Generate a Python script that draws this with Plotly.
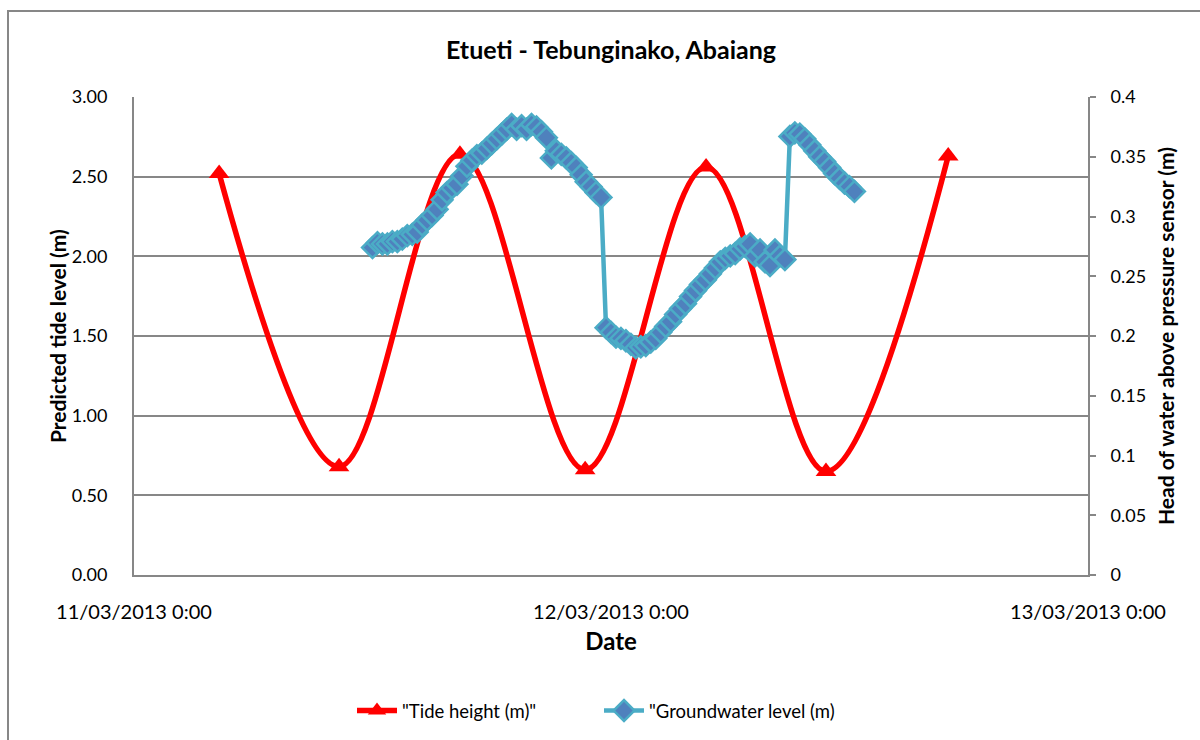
import pandas as pd
import plotly.graph_objects as go

# Predicted tide extremes (high/low water)
tide_times = [
    "2013-03-11 04:17", "2013-03-11 10:19", "2013-03-11 16:24",
    "2013-03-11 22:42", "2013-03-12 04:47", "2013-03-12 10:49",
    "2013-03-12 16:58",
]
tide_height = [2.52, 0.68, 2.64, 0.66, 2.56, 0.65, 2.63]

# Groundwater logger, 15-minute readings starting 11/03/2013 12:00
gw_start = "2013-03-11 12:00"
gw_interval = "15min"
gw_level = [
    0.274, 0.278, 0.277, 0.277, 0.279, 0.279, 0.281, 0.284, 0.285, 0.287,
    0.293, 0.297, 0.301, 0.306, 0.314, 0.320, 0.324, 0.327, 0.334, 0.342,
    0.347, 0.351, 0.353, 0.357, 0.361, 0.365, 0.369, 0.373, 0.377, 0.373,
    0.376, 0.373, 0.377, 0.375, 0.371, 0.366, 0.349, 0.355, 0.352, 0.349,
    0.345, 0.341, 0.335, 0.329, 0.325, 0.320, 0.316, 0.207, 0.203, 0.199,
    0.198, 0.196, 0.193, 0.190, 0.191, 0.192, 0.195, 0.198, 0.203, 0.208,
    0.212, 0.218, 0.223, 0.227, 0.233, 0.238, 0.243, 0.247, 0.252, 0.257,
    0.262, 0.265, 0.267, 0.269, 0.273, 0.275, 0.277, 0.267, 0.272, 0.262,
    0.259, 0.272, 0.267, 0.264, 0.367, 0.370, 0.369, 0.365, 0.360, 0.355,
    0.350, 0.346, 0.341, 0.336, 0.332, 0.328, 0.325, 0.321,
]
gw_times = pd.date_range(gw_start, periods=len(gw_level), freq=gw_interval)

x_ticks = ["2013-03-11 00:00", "2013-03-12 00:00", "2013-03-13 00:00"]
x_tick_labels = ["11/03/2013 0:00", "12/03/2013 0:00", "13/03/2013 0:00"]
left_ticks = [0, 0.5, 1.0, 1.5, 2.0, 2.5, 3.0]
right_ticks = [0, 0.05, 0.1, 0.15, 0.2, 0.25, 0.3, 0.35, 0.4]
right_tick_labels = ["0", "0.05", "0.1", "0.15", "0.2", "0.25", "0.3", "0.35", "0.4"]

FONT = "Lato"
GRID = "#878787"

# plot area in pixels
L, R, T, B = 134, 1088, 97, 575
PW, PH = R - L, B - T

fig = go.Figure()

fig.add_trace(go.Scatter(
    x=tide_times, y=tide_height, name='"Tide height (m)"',
    mode="lines+markers",
    line=dict(color="#FF0000", width=5.5, shape="spline", smoothing=1.0),
    marker=dict(symbol="triangle-up", size=18, color="#FF0000"),
    yaxis="y",
))

fig.add_trace(go.Scatter(
    x=gw_times, y=gw_level, name='"Groundwater level (m)',
    mode="lines+markers",
    line=dict(color="#4BACC6", width=4.5),
    marker=dict(symbol="diamond", size=16, color="#4F81BD",
                line=dict(color="#4BACC6", width=2.5)),
    yaxis="y2",
))

fig.update_layout(
    width=1200, height=740,
    margin=dict(l=L, r=1200 - R, t=T, b=740 - B, autoexpand=False),
    paper_bgcolor="white", plot_bgcolor="white",
    font=dict(family=FONT, size=20, color="black"),
    title=dict(text="<b>Etueti - Tebunginako, Abaiang</b>",
               x=611 / 1200, xanchor="center", y=1 - 50 / 740, yanchor="middle",
               font=dict(size=25, family=FONT)),
    xaxis=dict(
        type="date",
        range=["2013-03-11 00:00", "2013-03-13 00:00"],
        tickvals=x_ticks, ticktext=x_tick_labels,
        showgrid=False, showline=True, linecolor=GRID, linewidth=2,
        ticks="", ticklabelstandoff=18, automargin=False,
        title=dict(text="<b>Date</b>", font=dict(size=24), standoff=11),
    ),
    yaxis=dict(
        range=[0, 3], tickvals=left_ticks, tickformat=".2f",
        tickfont=dict(size=18),
        showgrid=True, gridcolor=GRID, gridwidth=2,
        showline=True, linecolor=GRID, linewidth=2,
        ticks="", ticklabelstandoff=21, zeroline=False, automargin=False,
    ),
    yaxis2=dict(
        range=[0, 0.4], tickvals=right_ticks, ticktext=right_tick_labels,
        tickfont=dict(size=18),
        overlaying="y", side="right",
        showgrid=False, showline=True, linecolor=GRID, linewidth=2,
        ticks="outside", ticklen=6, tickcolor=GRID, tickwidth=1.5,
        ticklabelstandoff=11, zeroline=False, automargin=False,
    ),
    legend=dict(orientation="h", x=(352 - L) / PW, xanchor="left",
                y=(B - 711) / PH, yanchor="middle", font=dict(size=18.5),
                itemwidth=40, entrywidth=192, entrywidthmode="pixels",
                bgcolor="rgba(0,0,0,0)"),
    showlegend=True,
)

# Vertical axis titles
fig.add_annotation(text="<b>Predicted tide level (m)</b>", textangle=-90,
                   xref="paper", yref="paper", x=(57 - L) / PW, y=0.5,
                   xanchor="center", yanchor="middle", showarrow=False,
                   font=dict(size=21))
fig.add_annotation(text="<b>Head of water above pressure sensor (m)</b>", textangle=-90,
                   xref="paper", yref="paper", x=(1165 - L) / PW, y=0.5,
                   xanchor="center", yanchor="middle", showarrow=False,
                   font=dict(size=21))

# Outer chart frame
fig.add_shape(type="rect", xref="paper", yref="paper",
              x0=(8 - L) / PW, x1=(1205 - L) / PW,
              y0=(B - 745) / PH, y1=(B - 11) / PH,
              line=dict(color=GRID, width=2), fillcolor="rgba(0,0,0,0)", layer="below")

fig.write_html("out.html")
